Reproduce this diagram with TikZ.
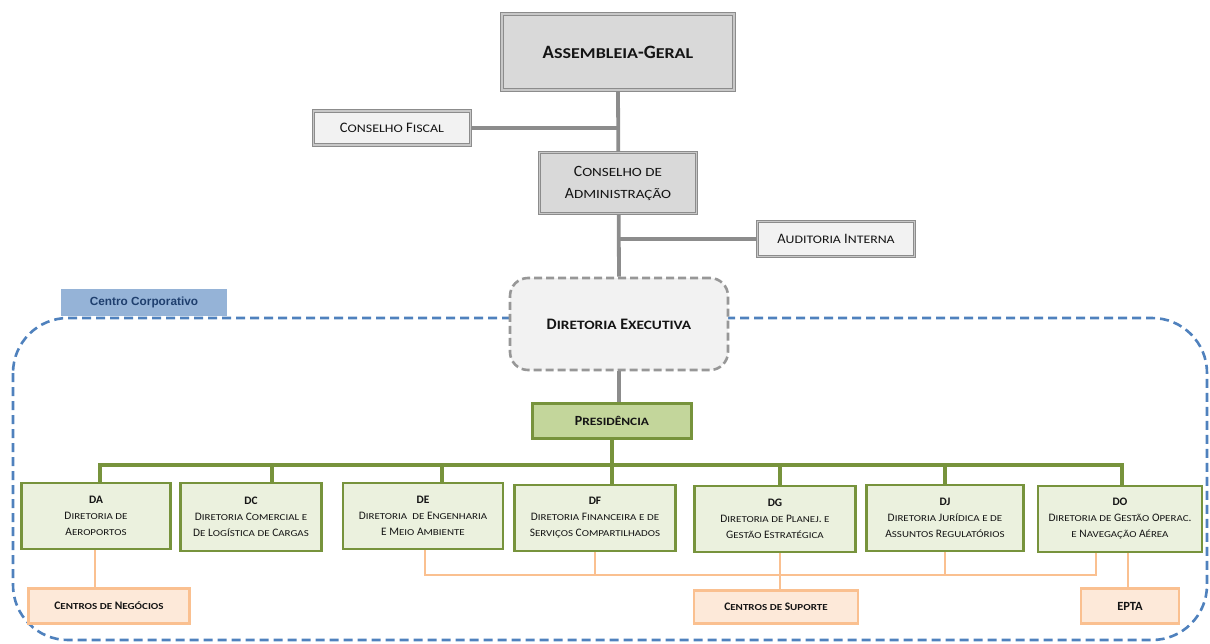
\documentclass[tikz,border=0pt]{standalone}
\usepackage{fontspec}
\setmainfont{Carlito}
\newfontfamily\arialf{Liberation Sans}
\usetikzlibrary{shadows,backgrounds}
\definecolor{cgray}{HTML}{8C8C8C}
\definecolor{cdbl}{HTML}{C8C8C8}
\definecolor{fillA}{HTML}{D9D9D9}
\definecolor{fillB}{HTML}{F2F2F2}
\definecolor{cgreen}{HTML}{77933C}
\definecolor{fgreen}{HTML}{EBF1DE}
\definecolor{fpres}{HTML}{C3D69B}
\definecolor{corange}{HTML}{FAC090}
\definecolor{forange}{HTML}{FDE9D9}
\definecolor{cblue}{HTML}{4F81BD}
\definecolor{fblue}{HTML}{95B3D7}
\definecolor{tblue}{HTML}{1F3F6E}
\definecolor{ctext}{HTML}{141414}
\newcommand\fs[2]{\fontsize{#1}{#2}\selectfont}
\ExplSyntaxOn
\tl_new:N \l__fsc_tl
\NewDocumentCommand \fsc { m }
  {
    \str_map_inline:nn {#1}
      {
        \tl_set:Nx \l__fsc_tl { \text_uppercase:n {##1} }
        \str_if_eq:nVTF {##1} \l__fsc_tl
          { ##1 }
          { { \fontsize { \fp_eval:n { 0.8 * \use:c { f@size } } } { \baselineskip }
              \addfontfeatures { FakeStretch = 1.2 } \selectfont \l__fsc_tl } }
      }
  }
\ExplSyntaxOff
\tikzset{
  graybox/.style={draw=cgray, line width=1.3pt, double=cdbl, double distance=1.2pt, text=ctext, align=center,
    drop shadow={shadow xshift=1.5pt, shadow yshift=-1.5pt, opacity=.35, fill=black!60}},
  dexbox/.style={draw=cgray!90, line width=2.6pt, dash pattern=on 8pt off 4pt, fill=fillB, rounded corners=18pt,
    text=ctext, align=center, font=\fs{16}{19}\bfseries},
  presbox/.style={draw=cgreen, line width=2.6pt, fill=fpres, text=ctext, font=\fs{14}{16}\bfseries},
  dirbox/.style={draw=cgreen, line width=2.6pt, fill=fgreen, text=ctext, align=center, font=\fs{11.4}{16},
    minimum height=66pt},
  orbox/.style={draw=corange, line width=2.6pt, fill=forange, text=ctext, align=center, font=\fs{11.5}{14}\bfseries,
    minimum height=35pt},
  gline/.style={draw=cgray, line width=3.8pt},
  grline/.style={draw=cgreen, line width=3.5pt},
  oline/.style={draw=corange, line width=2.8pt},
  bluedash/.style={draw=cblue, line width=2.6pt, dash pattern=on 9pt off 5pt, rounded corners=55pt},
}
\begin{document}
\begin{tikzpicture}[x=1pt,y=-1pt]
\useasboundingbox (0,0) rectangle (1210,643);
% top part
\node[graybox, fill=fillA, line width=1.8pt, minimum width=232pt, minimum height=76pt, font=\fs{18.8}{22}\bfseries] (ag) at (618,52) {\fsc{Assembleia-Geral}};
\node[graybox, fill=fillB, minimum width=157pt, minimum height=34pt, font=\fs{14.5}{16}] (cf) at (392,128) {\fsc{Conselho Fiscal}};
\node[graybox, fill=fillA, minimum width=157pt, minimum height=61pt, font=\fs{15.7}{22}] (cda) at (618,183) {\fsc{Conselho de}\\\fsc{Administração}};
\node[graybox, fill=fillB, minimum width=157pt, minimum height=35pt, font=\fs{14.4}{16}] (ai) at (836,239) {\fsc{Auditoria Interna}};
\node[dexbox, minimum width=218pt, minimum height=92pt] (dex) at (619,324) {\fsc{Diretoria Executiva}};
\node[presbox, minimum width=159pt, minimum height=35pt] (pres) at (612,421) {\fsc{Presidência}};
% centro corporativo label
\node[fill=fblue, minimum width=166pt, minimum height=27pt, inner sep=0pt, text=tblue, font=\arialf\fs{11.8}{13}\bfseries] (cc) at (144,302.5) {Centro Corporativo};
% diretorias
\node[dirbox, minimum width=149pt] (da) at (96,516) {\textbf{DA}\\\fsc{Diretoria de}\\\fsc{Aeroportos}};
\node[dirbox, minimum width=141pt, minimum height=68pt] (dc) at (251,517) {\textbf{DC}\\\fsc{Diretoria Comercial e}\\\fsc{De Logística de Cargas}};
\node[dirbox, minimum width=160pt] (de) at (423,516) {\textbf{DE}\\\fsc{Diretoria}\ \ \fsc{de Engenharia}\\\fsc{E Meio Ambiente}};
\node[dirbox, minimum width=161pt] (df) at (595,518) {\textbf{DF}\\\fsc{Diretoria Financeira e de}\\\fsc{Serviços Compartilhados}};
\node[dirbox, minimum width=161pt] (dg) at (775,519) {\textbf{DG}\\\fsc{Diretoria de Planej. e}\\\fsc{Gestão Estratégica}};
\node[dirbox, minimum width=157pt] (dj) at (945,518) {\textbf{DJ}\\\fsc{Diretoria Jurídica e de}\\\fsc{Assuntos Regulatórios}};
\node[dirbox, minimum width=164pt] (do) at (1120,519) {\textbf{DO}\\\fsc{Diretoria de Gestão Operac.}\\\fsc{e Navegação Aérea}};
% orange boxes
\node[orbox, minimum width=161pt] (cn) at (109,606) {\fsc{Centros de Negócios}};
\node[orbox, minimum width=164pt, minimum height=33pt] (cs) at (776,607) {\fsc{Centros de Suporte}};
\node[orbox, minimum width=98pt, font=\fs{12.5}{14}\bfseries] (epta) at (1130,606) {EPTA};
% background: frame and connectors
\begin{scope}[on background layer]
\draw[bluedash] (13,318) rectangle (1207,640);
\draw[gline] (ag.south) -- (dex.north);
\draw[gline] (cf.east) -- (cf.east -| ag.south);
\draw[gline] (ai.west) -- (ai.west -| ag.south);
\draw[gline] (dex.south) -- (dex.south |- pres.north);
\coordinate (gb) at (0,465);
\draw[grline] (pres.south) -- (pres.south |- gb);
\draw[grline] ([xshift=4pt]da.north) -- ([xshift=4pt]da.north |- gb) -- ([xshift=2pt]do.north |- gb) -- ([xshift=2pt]do.north);
\foreach \n/\dx in {dc/21, de/19, df/17, dg/5, dj/0}
  \draw[grline] ([xshift=\dx pt]\n.north) -- ([xshift=\dx pt]\n.north |- gb);
\coordinate (ob) at (0,575);
\draw[oline] ([xshift=2pt]de.south) -- ([xshift=2pt]de.south |- ob) -- ([xshift=-24pt]do.south |- ob) -- ([xshift=-24pt]do.south);
\draw[oline] (df.south) -- (df.south |- ob);
\draw[oline] (dj.south) -- (dj.south |- ob);
\draw[oline] ([xshift=5pt]dg.south) -- ([xshift=5pt]dg.south |- cs.north);
\draw[oline] ([xshift=8pt]do.south) -- ([xshift=8pt]do.south |- epta.north);
\draw[oline] ([xshift=-1pt]da.south) -- ([xshift=-1pt]da.south |- cn.north);
\end{scope}
\end{tikzpicture}
\end{document}
